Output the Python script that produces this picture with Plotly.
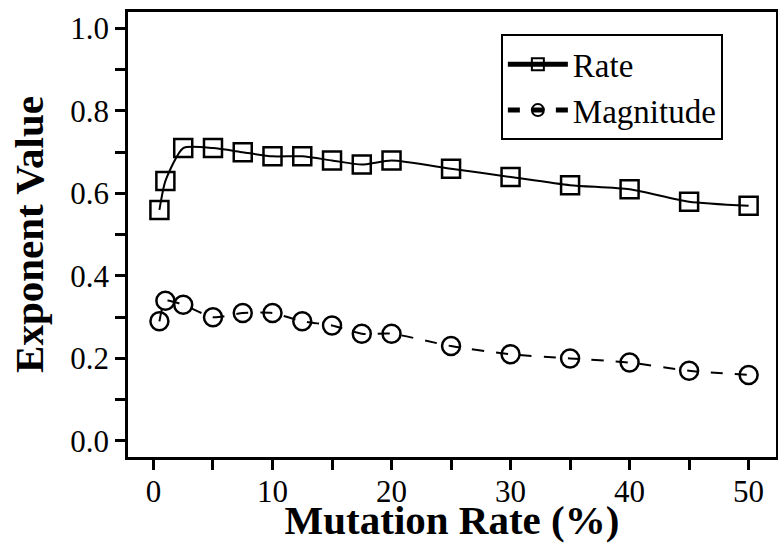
import plotly.graph_objects as go

mutation_rate = [0.5, 1, 2.5, 5, 7.5, 10, 12.5, 15, 17.5, 20, 25, 30, 35, 40, 45, 50]
rate_values = [0.56, 0.63, 0.71, 0.71, 0.70, 0.69, 0.69, 0.68, 0.67, 0.68, 0.66, 0.64, 0.62, 0.61, 0.58, 0.57]
magnitude_values = [0.29, 0.34, 0.33, 0.30, 0.31, 0.31, 0.29, 0.28, 0.26, 0.26, 0.23, 0.21, 0.20, 0.19, 0.17, 0.16]

FONT = "Times New Roman, Liberation Serif, serif"

fig = go.Figure()
fig.add_trace(go.Scatter(
    x=mutation_rate, y=rate_values, name="Rate", mode="lines+markers",
    line=dict(color="black", width=2, shape="spline", smoothing=0.6),
    marker=dict(symbol="square-open", size=18, color="black", line=dict(width=2.5, color="black")),
))
fig.add_trace(go.Scatter(
    x=mutation_rate, y=magnitude_values, name="Magnitude", mode="lines+markers",
    line=dict(color="black", width=2, dash="12px,12px", shape="spline", smoothing=0.6),
    marker=dict(symbol="circle-open", size=18, color="black", line=dict(width=2.5, color="black")),
))

fig.update_layout(
    width=778, height=543,
    margin=dict(l=128, r=2, t=12, b=86),
    paper_bgcolor="white", plot_bgcolor="white",
    font=dict(family=FONT, color="black", size=31),
    showlegend=True,
    legend=dict(
        x=0.918, y=0.95, xanchor="right", yanchor="top",
        bordercolor="black", borderwidth=2, bgcolor="white",
        font=dict(family=FONT, size=33, color="black"),
        itemsizing="constant", itemwidth=60,
        tracegroupgap=0,
    ),
    xaxis=dict(
        range=[-2.14, 52.3], showgrid=False, zeroline=False, automargin=False,
        showline=True, linecolor="black", linewidth=2.5, mirror=True,
        ticks="outside", ticklen=10, tickwidth=2.5, tickcolor="black",
        tickmode="array", tickvals=[0, 10, 20, 30, 40, 50],
        minor=dict(tickvals=[5, 15, 25, 35, 45], ticks="outside", ticklen=10, tickwidth=2.5, tickcolor="black", showgrid=False),
        tickfont=dict(family=FONT, size=31), ticklabelstandoff=-5,
        title=dict(text="<b>Mutation Rate (%)</b>", font=dict(family=FONT, size=41), standoff=4),
    ),
    yaxis=dict(
        range=[-0.039, 1.04], showgrid=False, zeroline=False, automargin=False,
        showline=True, linecolor="black", linewidth=2.5, mirror=True,
        ticks="outside", ticklen=10, tickwidth=2.5, tickcolor="black",
        tickmode="array", tickvals=[0.0, 0.2, 0.4, 0.6, 0.8, 1.0],
        ticktext=["0.0", "0.2", "0.4", "0.6", "0.8", "1.0"],
        minor=dict(tickvals=[0.1, 0.3, 0.5, 0.7, 0.9], ticks="outside", ticklen=10, tickwidth=2.5, tickcolor="black", showgrid=False),
        tickfont=dict(family=FONT, size=31),
        title=dict(text="<b>Exponent Value</b>", font=dict(family=FONT, size=41), standoff=14),
    ),
)

fig.write_html("out.html")
